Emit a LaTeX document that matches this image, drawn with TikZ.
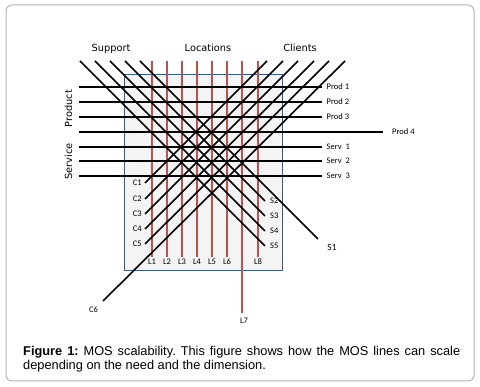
\documentclass[tikz,border=0pt]{standalone}
\usepackage{fontspec}
\setmainfont{Liberation Sans}
\newfontfamily\dejavu{DejaVu Sans}
\newfontfamily\carl{Carlito}
\definecolor{locred}{HTML}{C0504D}
\definecolor{boxblue}{HTML}{385D8A}
\definecolor{boxfill}{HTML}{F4F4F4}
\definecolor{framegray}{HTML}{B4B4B4}
\frenchspacing
\begin{document}
\begin{tikzpicture}[x=1pt,y=-1pt,
  head/.style={font=\dejavu\fontsize{9.8}{11}\selectfont, anchor=base, inner sep=0pt},
  lbl/.style={font=\carl\fontsize{8.5}{10}\selectfont, inner sep=2pt},
  hlbl/.style={lbl, anchor=west, inner xsep=4.5pt},
  hthick/.style={line width=2pt, black},
  hthin/.style={line width=1.3pt, black},
  dl/.style={line width=1.6pt, black},
  redl/.style={line width=2pt, locred}]
\useasboundingbox (0,0) rectangle (480,387);
% outer frame
\draw[framegray, line width=1pt, rounded corners=6pt] (6,5) rectangle (474,381);
% inner box
\node[draw=boxblue, fill=boxfill, line width=0.9pt, minimum width=158pt, minimum height=196pt, inner sep=0pt, anchor=north west] (box) at (124,74) {};
% headers
\node[head] (sup) at (111,52) {Support};
\node[head] (loc) at (208,52) {Locations};
\node[head] (cli) at (300,52) {Clients};
\node[head, rotate=90] (prod) at (72,108.5) {Product};
\node[head, rotate=90] (serv) at (72,161.5) {Service};
% red vertical lines
\foreach \i/\x in {1/152,2/167,3/182,4/197,5/212,6/227,8/258}{
  \coordinate (lt\i) at (\x,61);
  \node[lbl] (L\i) at (\x,262) {L\i};
  \draw[redl] (lt\i) -- (L\i.north);
}
\coordinate (lt7) at (242,61);
\coordinate (lb7) at (242,313);
\node[lbl] (L7) at (244,321) {L7};
\draw[redl] (lt7) -- (lb7);
% horizontal lines
\coordinate (h1) at (79,87);
\coordinate (h2) at (79,102);
\coordinate (h3) at (79,117);
\coordinate (h4) at (79,132);
\coordinate (h5) at (79,147);
\coordinate (h6) at (79,161);
\coordinate (h7) at (79,176);
\node[hlbl] (P1) at (322,87) {Prod 1};
\node[hlbl] (P2) at (322,102) {Prod 2};
\node[hlbl] (P3) at (322,117) {Prod 3};
\node[hlbl, inner xsep=9pt] (P4) at (383,132) {Prod 4};
\node[hlbl] (S1x) at (322,147) {Serv~~1};
\node[hlbl] (S2x) at (322,161) {Serv~~2};
\node[hlbl] (S3x) at (322,176) {Serv~~3};
\draw[hthick] (h1) -- (P1.west);
\draw[hthick] (h2) -- (P2.west);
\draw[hthick] (h3) -- (P3.west);
\draw[hthick] (h4) -- (P4.west);
\draw[hthick] (h5) -- (S1x.west);
\draw[hthin] (h6) -- (S2x.west);
\draw[hthin] (h7) -- (S3x.west);
% down-right diagonals (Support)
\coordinate (d5) at (80,61);
\coordinate (d4) at (95,61);
\coordinate (d3) at (110,61);
\coordinate (d2) at (125,61);
\coordinate (d1) at (140,61);
\node[lbl, anchor=west, inner xsep=5pt] (S5) at (265,246) {S5};
\node[lbl, anchor=west, inner xsep=5pt] (S4) at (265,231) {S4};
\node[lbl, anchor=west, inner xsep=5pt] (S3) at (265,216) {S3};
\node[lbl, anchor=west, inner xsep=5pt] (S2) at (265,201) {S2};
\coordinate (s1e) at (318,239);
\node[lbl, font=\carl\fontsize{9.5}{11}\selectfont] (S1) at (332,247) {S1};
\draw[dl] (d5) -- (S5.west);
\draw[dl] (d4) -- (S4.west);
\draw[dl] (d3) -- (S3.west);
\draw[dl] (d2) -- (S2.west);
\draw[dl] (d1) -- (s1e);
% up-right diagonals (Clients)
\coordinate (u1) at (267,61);
\coordinate (u2) at (283,61);
\coordinate (u3) at (298,61);
\coordinate (u4) at (314,61);
\coordinate (u5) at (329,61);
\coordinate (u6) at (345,61);
\node[lbl, anchor=east, inner xsep=3pt] (C1) at (145,183) {C1};
\node[lbl, anchor=east, inner xsep=3pt] (C2) at (145,199) {C2};
\node[lbl, anchor=east, inner xsep=3pt] (C3) at (145,214) {C3};
\node[lbl, anchor=east, inner xsep=3pt] (C4) at (145,229) {C4};
\node[lbl, anchor=east, inner xsep=3pt] (C5) at (145,244) {C5};
\coordinate (c6e) at (103,301);
\node[lbl] (C6) at (93.5,309.5) {C6};
\draw[dl] (u1) -- (C1.east);
\draw[dl] (u2) -- (C2.east);
\draw[dl] (u3) -- (C3.east);
\draw[dl] (u4) -- (C4.east);
\draw[dl] (u5) -- (C5.east);
\draw[dl] (u6) -- (c6e);
% caption
\node[anchor=north west, inner sep=0pt, text width=437pt, align=justify,
  font=\fontsize{12.8}{14}\selectfont] (cap) at (23,346.5)
  {\textbf{Figure 1:} MOS scalability. This figure shows how the MOS lines can scale\linebreak depending on the need and the dimension.};
\end{tikzpicture}
\end{document}
